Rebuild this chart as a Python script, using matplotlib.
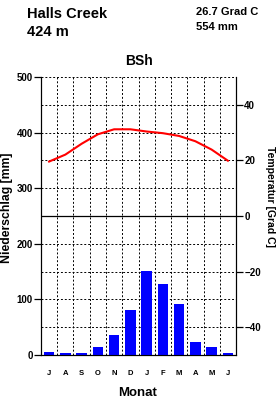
import matplotlib
matplotlib.use('Agg')
import matplotlib.pyplot as plt
import numpy as np

plt.rcParams['font.family'] = ['Liberation Sans', 'DejaVu Sans']

months = ['J', 'A', 'S', 'O', 'N', 'D', 'J', 'F', 'M', 'A', 'M', 'J']
precip = [5, 3, 3, 14, 36, 82, 151, 127, 92, 23, 14, 4]
temp = [19.6, 22.1, 26.0, 29.4, 31.2, 31.2, 30.4, 29.8, 28.8, 26.9, 23.9, 19.9]
station = 'Halls Creek'
height_txt = '424 m'
mean_temp = '26.7 Grad C'
sum_precip = '554 mm'
climate = 'BSh'

fig = plt.figure(figsize=(2.77, 3.99), dpi=100)
ax = fig.add_axes([0.148, 0.110, 0.704, 0.697])
x = np.arange(len(months)) + 0.5

ax.bar(x, precip, width=0.66, color='#0000ff', zorder=3)
ax.set_xlim(0, 12)
ax.set_ylim(0, 500)

# grid
for v in range(1, 12):
    ax.axvline(v, color='black', ls=(0, (2, 2)), lw=0.7, zorder=1)
for h in range(50, 501, 50):
    if h == 250:
        ax.axhline(h, color='black', lw=0.9, zorder=1)
    else:
        ax.axhline(h, color='black', ls=(0, (2, 2)), lw=0.7, zorder=1)

ax.spines['top'].set_visible(False)
ax.set_yticks([0, 100, 200, 300, 400, 500])
ax.tick_params(axis='y', direction='out', length=5, width=0.9, labelsize=7, pad=1)
for t in ax.get_yticklabels():
    t.set_fontweight('bold')
ax.set_xticks(x)
ax.set_xticklabels(months, fontsize=5.5, fontweight='bold')
ax.tick_params(axis='x', length=0, pad=11)

ax2 = ax.twinx()
ax2.plot(x, temp, color='red', lw=1.5, zorder=4)
ax2.set_ylim(-50, 50)
ax2.spines['top'].set_visible(False)
ax2.set_yticks([-40, -20, 0, 20, 40])
ax2.tick_params(axis='y', direction='out', length=5, width=0.9, labelsize=7, pad=1)
for t in ax2.get_yticklabels():
    t.set_fontweight('bold')

W, H = 277.0, 399.0
fig.text(7 / W, 1 - 208 / H, 'Niederschlag [mm]', fontsize=8.8, fontweight='bold',
         rotation=90, ha='center', va='center')
fig.text(270 / W, 1 - 197 / H, 'Temperatur [Grad C]', fontsize=7.5, fontweight='bold',
         rotation=-90, ha='center', va='center')
fig.text(138 / W, 1 - 393 / H, 'Monat', fontsize=9.5, fontweight='bold',
         ha='center', va='center')

fig.text(0.097, 0.982, station, fontsize=10.5, fontweight='bold', va='top', ha='left')
fig.text(0.097, 0.938, height_txt, fontsize=10.5, fontweight='bold', va='top', ha='left')
fig.text(0.708, 0.982, mean_temp, fontsize=8, fontweight='bold', va='top', ha='left')
fig.text(0.708, 0.945, sum_precip, fontsize=8, fontweight='bold', va='top', ha='left')
fig.text(0.5, 0.848, climate, fontsize=10, fontweight='bold', va='center', ha='center')

fig.savefig('out.png', dpi=100)
